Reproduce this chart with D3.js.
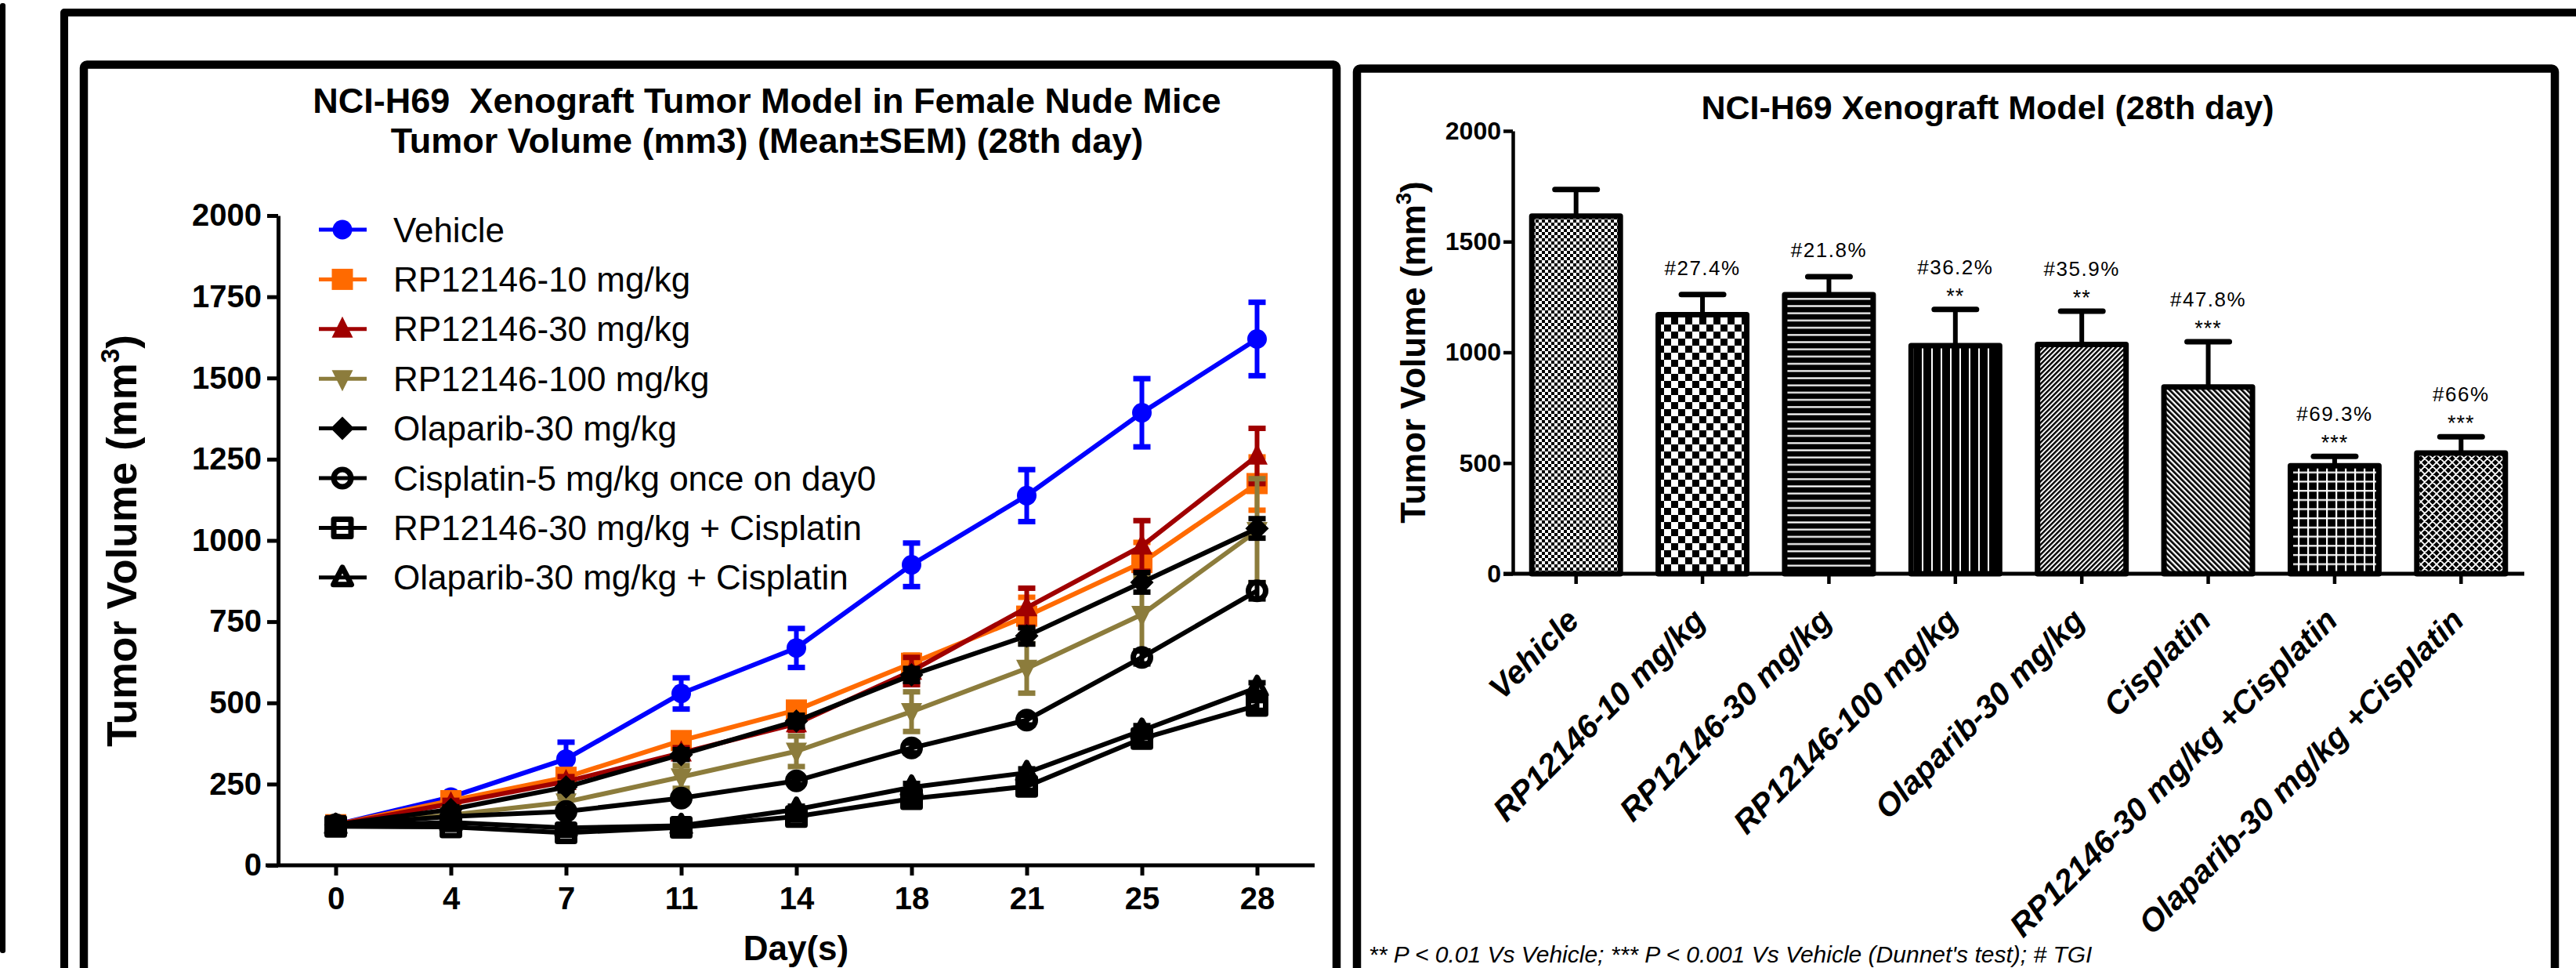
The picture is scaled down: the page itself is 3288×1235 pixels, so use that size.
<!DOCTYPE html>
<html><head><meta charset="utf-8">
<script src="https://cdn.jsdelivr.net/npm/d3@7"></script>
<style>
body{margin:0;background:#fff;}
svg{display:block;font-family:"Liberation Sans",Arial,sans-serif;}
</style>
</head><body>
<svg id="c" width="3288" height="1235"></svg>
<script>
// ---------------- DATA ----------------
const days = [0, 4, 7, 11, 14, 18, 21, 25, 28];
const yTicksLeft = [0, 250, 500, 750, 1000, 1250, 1500, 1750, 2000];
const yTicksRight = [0, 500, 1000, 1500, 2000];

const seriesLabels = ["Vehicle", "RP12146-10 mg/kg", "RP12146-30 mg/kg", "RP12146-100 mg/kg",
  "Olaparib-30 mg/kg", "Cisplatin-5 mg/kg once on day0", "RP12146-30 mg/kg + Cisplatin", "Olaparib-30 mg/kg + Cisplatin"];
const seriesColors = ["#0000ff", "#ff6a00", "#a00000", "#8c7c3c", "#000000", "#000000", "#000000", "#000000"];
const seriesSymbols = ["circle", "square", "triangle", "triangleDown", "diamond", "circleOpen", "squareOpen", "triangleOpen"];

const vehicleMean = [125, 210, 327, 529, 669, 925, 1138, 1393, 1620];
const vehicleSem  = [6, 10, 52, 48, 60, 67, 80, 105, 113];
const rp10Mean    = [125, 199, 271, 384, 478, 622, 767, 932, 1175];
const rp10Sem     = [6, 10, 15, 16, 18, 25, 58, 62, 82];
const rp30Mean    = [125, 190, 258, 346, 436, 598, 793, 983, 1260];
const rp30Sem     = [6, 10, 15, 16, 20, 42, 60, 78, 85];
const rp100Mean   = [125, 155, 195, 272, 351, 473, 606, 772, 1030];
const rp100Sem    = [6, 8, 15, 35, 47, 61, 76, 112, 160];
const olapMean    = [125, 172, 241, 341, 444, 586, 706, 871, 1037];
const olapSem     = [6, 8, 12, 15, 18, 20, 25, 30, 30];
const cisMean     = [125, 150, 166, 207, 260, 361, 447, 640, 845];
const cisSem      = [6, 8, 10, 12, 12, 15, 15, 20, 25];
const rp30CisMean = [120, 118, 100, 117, 150, 205, 243, 390, 492];
const rp30CisSem  = [5, 5, 8, 8, 10, 12, 12, 15, 15];
const olapCisMean = [122, 132, 115, 122, 172, 240, 285, 415, 547];
const olapCisSem  = [5, 5, 8, 8, 10, 12, 12, 15, 15];

const barCategories = ["Vehicle", "RP12146-10 mg/kg", "RP12146-30 mg/kg", "RP12146-100 mg/kg",
  "Olaparib-30 mg/kg", "Cisplatin", "RP12146-30 mg/kg +Cisplatin", "Olaparib-30 mg/kg +Cisplatin"];
const barMeans = [1615, 1170, 1260, 1030, 1035, 843, 488, 545];
const barSems  = [120, 91, 82, 164, 151, 205, 42, 74];
const tgiLabels = ["", "#27.4%", "#21.8%", "#36.2%", "#35.9%", "#47.8%", "#69.3%", "#66%"];
const sigLabels = ["", "", "", "**", "**", "***", "***", "***"];

const leftTitle = ["NCI-H69  Xenograft Tumor Model in Female Nude Mice", "Tumor Volume (mm3) (Mean\u00B1SEM) (28th day)"];
const rightTitle = "NCI-H69 Xenograft Model (28th day)";
const footnote = "** P < 0.01 Vs Vehicle; *** P < 0.001 Vs Vehicle (Dunnet's test); # TGI";

// ---------------- SETUP ----------------
const means = [vehicleMean, rp10Mean, rp30Mean, rp100Mean, olapMean, cisMean, rp30CisMean, olapCisMean];
const sems = [vehicleSem, rp10Sem, rp30Sem, rp100Sem, olapSem, cisSem, rp30CisSem, olapCisSem];
const series = seriesLabels.map((name, i) => ({
  name, color: seriesColors[i], symbol: seriesSymbols[i],
  points: days.map((d, j) => ({day: d, mean: means[i][j], sem: sems[i][j]}))
}));

const svg = d3.select("#c");
svg.append("rect").attr("width", 3288).attr("height", 1235).attr("fill", "#fff");
const defs = svg.append("defs");
const FONT = "Liberation Sans, Arial, sans-serif";

// ---------------- FRAMES ----------------
svg.append("rect").attr("x", 0).attr("y", 4).attr("width", 7).attr("height", 1212).attr("rx", 3).attr("fill", "#000");
svg.append("path").attr("d", "M82,1300V16H3300").attr("fill", "none").attr("stroke", "#000")
  .attr("stroke-width", 10).attr("stroke-linejoin", "round");
svg.append("rect").attr("x", 107).attr("y", 82.5).attr("width", 1599).attr("height", 1300).attr("rx", 4)
  .attr("fill", "none").attr("stroke", "#000").attr("stroke-width", 10.5);
svg.append("rect").attr("x", 1732).attr("y", 87.5).attr("width", 1529).attr("height", 1300).attr("rx", 4)
  .attr("fill", "none").attr("stroke", "#000").attr("stroke-width", 10.5);

// ---------------- LEFT CHART ----------------
const xL = d3.scalePoint().domain(days).range([355, 1678]).padding(0.5);
const yL = d3.scaleLinear().domain([0, 2000]).range([1104, 275]);

const tl = svg.append("text").attr("x", 979).attr("text-anchor", "middle")
  .attr("font-size", 45).attr("font-weight", "bold").style("white-space", "pre");
tl.append("tspan").attr("x", 979).attr("y", 144).text(leftTitle[0]);
tl.append("tspan").attr("x", 979).attr("y", 195).text(leftTitle[1]);

// y axis
const gyL = svg.append("g").attr("transform", "translate(355,0)")
  .call(d3.axisLeft(yL).tickValues(yTicksLeft).tickFormat(d3.format("d"))
    .tickSize(14).tickPadding(7).tickSizeOuter(0));
gyL.select(".domain").attr("stroke-width", 5);
gyL.selectAll(".tick line").attr("stroke-width", 5);
gyL.selectAll(".tick text").attr("font-size", 40).attr("font-weight", "bold")
  .attr("font-family", FONT).attr("fill", "#000");

// x axis
const gxL = svg.append("g").attr("transform", "translate(0,1104)")
  .call(d3.axisBottom(xL).tickSize(13).tickPadding(15).tickSizeOuter(0));
gxL.select(".domain").remove();
gxL.append("line").attr("x1", 339).attr("x2", 1678).attr("y1", 0).attr("y2", 0)
  .attr("stroke", "#000").attr("stroke-width", 5);
gxL.selectAll(".tick line").attr("stroke-width", 5);
gxL.selectAll(".tick text").attr("font-size", 40).attr("font-weight", "bold")
  .attr("font-family", FONT).attr("fill", "#000");

svg.append("text").attr("x", 1016).attr("y", 1225).attr("text-anchor", "middle")
  .attr("font-size", 44).attr("font-weight", "bold").text("Day(s)");

function yLabel(x, y, size) {
  const t = svg.append("text").attr("transform", `translate(${x},${y}) rotate(-90)`)
    .attr("text-anchor", "middle").attr("font-size", size).attr("font-weight", "bold");
  t.append("tspan").text("Tumor Volume (mm");
  t.append("tspan").attr("font-size", size * 0.62).attr("dy", -size * 0.42).text("3");
  t.append("tspan").attr("dy", size * 0.42).text(")");
}
yLabel(174, 690, 53);

// marker shapes
function markerPath(kind) {
  switch (kind) {
    case "circle": { const r = 12.5; return `M${r},0A${r},${r} 0 1,1 ${-r},0A${r},${r} 0 1,1 ${r},0Z`; }
    case "circleOpen": { const r = 11; return `M${r},0A${r},${r} 0 1,1 ${-r},0A${r},${r} 0 1,1 ${r},0Z`; }
    case "square": { const h = 13.5; return `M${-h},${-h}H${h}V${h}H${-h}Z`; }
    case "squareOpen": { const h = 11; return `M${-h},${-h}H${h}V${h}H${-h}Z`; }
    case "triangle": return "M0,-16L13.5,11L-13.5,11Z";
    case "triangleDown": return "M0,16L13.5,-11L-13.5,-11Z";
    case "triangleOpen": return "M0,-13L11.5,9L-11.5,9Z";
    case "diamond": return "M0,-15L15,0L0,15L-15,0Z";
  }
}
function drawMarker(g, kind, color) {
  const open = kind.endsWith("Open");
  return g.append("path").attr("d", markerPath(kind))
    .attr("fill", open ? "none" : color)
    .attr("stroke", open ? "#000" : "none")
    .attr("stroke-width", open ? 7 : 0)
    .attr("stroke-linejoin", "round");
}

const line = d3.line().x(d => xL(d.day)).y(d => yL(d.mean));
const plotL = svg.append("g");
series.forEach(s => {
  const g = plotL.append("g");
  g.append("path").datum(s.points).attr("d", line).attr("fill", "none")
    .attr("stroke", s.color).attr("stroke-width", 6).attr("stroke-linejoin", "round");
  const eb = g.selectAll(".eb").data(s.points).enter().append("g")
    .attr("transform", d => `translate(${xL(d.day)},0)`);
  eb.append("line").attr("x1", 0).attr("x2", 0)
    .attr("y1", d => yL(d.mean - d.sem)).attr("y2", d => yL(d.mean + d.sem))
    .attr("stroke", s.color).attr("stroke-width", 6);
  eb.append("line").attr("x1", -11).attr("x2", 11)
    .attr("y1", d => yL(d.mean + d.sem)).attr("y2", d => yL(d.mean + d.sem))
    .attr("stroke", s.color).attr("stroke-width", 7);
  eb.append("line").attr("x1", -11).attr("x2", 11)
    .attr("y1", d => yL(d.mean - d.sem)).attr("y2", d => yL(d.mean - d.sem))
    .attr("stroke", s.color).attr("stroke-width", 7);
  s.points.forEach(p => {
    const m = g.append("g").attr("transform", `translate(${xL(p.day)},${yL(p.mean)})`);
    drawMarker(m, s.symbol, s.color);
  });
});

// legend
const legend = svg.append("g");
series.forEach((s, i) => {
  const y = 293 + i * 63.4;
  const g = legend.append("g").attr("transform", `translate(0,${y})`);
  g.append("line").attr("x1", 407).attr("x2", 468).attr("y1", 0).attr("y2", 0)
    .attr("stroke", s.color).attr("stroke-width", 5);
  const m = g.append("g").attr("transform", "translate(437,0)");
  drawMarker(m, s.symbol, s.color);
  g.append("text").attr("x", 502).attr("y", 15.5).attr("font-size", 44).text(s.name);
});

// ---------------- RIGHT CHART ----------------
const xR = d3.scaleBand().domain(barCategories).range([1931, 3222]).paddingInner(0.3).paddingOuter(0.15);
const yR = d3.scaleLinear().domain([0, 2000]).range([732, 167]);

svg.append("text").attr("x", 2537).attr("y", 152).attr("text-anchor", "middle")
  .attr("font-size", 43).attr("font-weight", "bold").text(rightTitle);

// patterns
function mkPattern(id, w, h, bg, transform) {
  const p = defs.append("pattern").attr("id", id).attr("patternUnits", "userSpaceOnUse")
    .attr("width", w).attr("height", h);
  if (transform) p.attr("patternTransform", transform);
  p.append("rect").attr("width", w).attr("height", h).attr("fill", bg);
  return p;
}
let p;
p = mkPattern("pat0", 8, 8, "#fff");
p.append("rect").attr("x", 0).attr("y", 0).attr("width", 4).attr("height", 4).attr("fill", "#000");
p.append("rect").attr("x", 4).attr("y", 4).attr("width", 4).attr("height", 4).attr("fill", "#000");
p = mkPattern("pat1", 18, 18, "#fff");
p.append("rect").attr("x", 0).attr("y", 0).attr("width", 9).attr("height", 9).attr("fill", "#000");
p.append("rect").attr("x", 9).attr("y", 9).attr("width", 9).attr("height", 9).attr("fill", "#000");
p = mkPattern("pat2", 10, 9.2, "#000");
p.append("rect").attr("x", 0).attr("y", 3).attr("width", 10).attr("height", 2.2).attr("fill", "#fff");
p = mkPattern("pat3", 12, 10, "#000");
p.append("rect").attr("x", 5).attr("y", 0).attr("width", 2).attr("height", 10).attr("fill", "#fff");
p = mkPattern("pat4", 4.4, 10, "#fff", "rotate(45)");
p.append("rect").attr("x", 0).attr("y", 0).attr("width", 2.4).attr("height", 10).attr("fill", "#000");
p = mkPattern("pat5", 5, 10, "#fff", "rotate(-45)");
p.append("rect").attr("x", 0).attr("y", 0).attr("width", 2.7).attr("height", 10).attr("fill", "#000");
p = mkPattern("pat6", 12, 11.7, "#000");
p.append("rect").attr("x", 5).attr("y", 0).attr("width", 2.2).attr("height", 11.7).attr("fill", "#fff");
p.append("rect").attr("x", 0).attr("y", 5).attr("width", 12).attr("height", 2.2).attr("fill", "#fff");
p = mkPattern("pat7", 10, 10, "#000");
p.append("path").attr("d", "M0,10L10,0M-2,2L2,-2M8,12L12,8M0,0L10,10M-2,8L2,12M8,-2L12,2")
  .attr("stroke", "#fff").attr("stroke-width", 1.8);

const gyR = svg.append("g").attr("transform", "translate(1931,0)")
  .call(d3.axisLeft(yR).tickValues(yTicksRight).tickFormat(d3.format("d"))
    .tickSize(12).tickPadding(3).tickSizeOuter(0));
gyR.select(".domain").attr("stroke-width", 4.5);
gyR.selectAll(".tick line").attr("stroke-width", 4.5);
gyR.selectAll(".tick text").attr("font-size", 32).attr("font-weight", "bold")
  .attr("font-family", FONT).attr("fill", "#000");

yLabel(1819, 449.5, 44);

const bars = svg.append("g");
barCategories.forEach((c, i) => {
  const x0 = xR(c), bw = xR.bandwidth(), cx = x0 + bw / 2;
  const top = yR(barMeans[i]);
  const capY = yR(barMeans[i] + barSems[i]);
  bars.append("line").attr("x1", cx).attr("x2", cx).attr("y1", top).attr("y2", capY)
    .attr("stroke", "#000").attr("stroke-width", 6);
  bars.append("line").attr("x1", cx - 27).attr("x2", cx + 27).attr("y1", capY).attr("y2", capY)
    .attr("stroke", "#000").attr("stroke-width", 7).attr("stroke-linecap", "round");
  bars.append("rect").attr("x", x0).attr("y", top).attr("width", bw).attr("height", yR(0) - top)
    .attr("fill", `url(#pat${i})`).attr("stroke", "#000").attr("stroke-width", 7)
    .attr("stroke-linejoin", "round");
  const starBase = capY - 8;
  if (sigLabels[i]) {
    bars.append("text").attr("x", cx).attr("y", starBase).attr("text-anchor", "middle")
      .attr("font-size", 27).attr("letter-spacing", 1).text(sigLabels[i]);
  }
  if (tgiLabels[i]) {
    bars.append("text").attr("x", cx).attr("y", sigLabels[i] ? starBase - 37 : capY - 25)
      .attr("text-anchor", "middle").attr("font-size", 26).attr("letter-spacing", 1.5).text(tgiLabels[i]);
  }
});

const gxR = svg.append("g").attr("transform", "translate(0,732)")
  .call(d3.axisBottom(xR).tickSize(13).tickSizeOuter(0).tickFormat(""));
gxR.select(".domain").remove();
gxR.append("line").attr("x1", 1919).attr("x2", 3222).attr("stroke", "#000").attr("stroke-width", 5);
gxR.selectAll(".tick line").attr("stroke-width", 4.5);

barCategories.forEach(c => {
  const cx = xR(c) + xR.bandwidth() / 2;
  svg.append("text").attr("transform", `translate(${cx + 6},794) rotate(-45)`)
    .attr("text-anchor", "end").attr("font-size", 41).attr("font-weight", "bold")
    .attr("font-style", "italic").text(c);
});

svg.append("text").attr("x", 1747).attr("y", 1228).attr("font-size", 30).attr("font-style", "italic")
  .text(footnote);
</script>
</body></html>
